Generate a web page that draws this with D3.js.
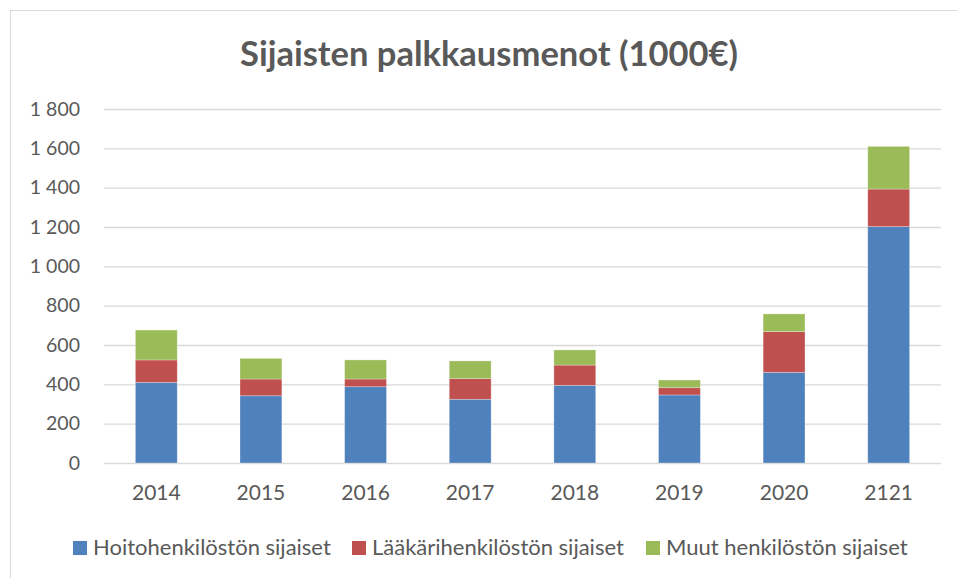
<!DOCTYPE html>
<html>
<head>
<meta charset="utf-8">
<script src="https://cdn.jsdelivr.net/npm/d3@7"></script>
<style>
  html, body { margin: 0; padding: 0; background: #fff; }
  svg { display: block; font-family: Lato, "Open Sans", sans-serif; }
  .grid line { stroke: #d9d9d9; stroke-width: 1.3; }
  .axis text { fill: #595959; }
</style>
</head>
<body>
<svg id="chart" width="957" height="578"></svg>
<script>
  var YEARS = ['2014', '2015', '2016', '2017', '2018', '2019', '2020', '2121'],

      SERIES = ['Hoitohenkilöstön sijaiset', 'Lääkärihenkilöstön sijaiset', 'Muut henkilöstön sijaiset'],

      // 1000 € per year
      HOITO  = [410, 342, 388, 324, 395, 346, 461, 1202],
      LAAKARI = [114, 85, 39, 105, 103, 37, 207, 191],
      MUUT   = [152, 105, 97, 90, 77, 39, 90, 217],

      Y_TICKS = [0, 200, 400, 600, 800, 1000, 1200, 1400, 1600, 1800],

      COLORS = ['#4f81bd', '#c0504d', '#9bbb59'];

  var svg = d3.select('#chart'),

      fi = d3.formatLocale({ decimal: ',', thousands: '\u00a0', grouping: [3], currency: ['', '€'] }),

      rows = YEARS.map(function(y, i) {
        return { year: y, s0: HOITO[i], s1: LAAKARI[i], s2: MUUT[i] };
      }),

      stack = d3.stack().keys(['s0', 's1', 's2'])(rows),

      x = d3.scaleBand()
        .domain(YEARS)
        .range([104, 941])
        .paddingInner(0.6)
        .paddingOuter(0.3),

      y = d3.scaleLinear()
        .domain([0, 1800])
        .range([463, 109]);

  // chart frame
  svg.append('rect')
    .attr('x', 10.5).attr('y', 10.5)
    .attr('width', 960).attr('height', 600)
    .attr('fill', 'none')
    .attr('stroke', '#d9d9d9');

  svg.append('text')
    .attr('x', 489).attr('y', 66)
    .attr('text-anchor', 'middle')
    .attr('font-size', 34.5)
    .attr('font-weight', 'bold')
    .attr('fill', '#595959')
    .text('Sijaisten palkkausmenot (1000€)');

  // gridlines + y labels
  var yAxis = svg.append('g')
    .attr('class', 'axis grid')
    .attr('transform', 'translate(104,0)')
    .call(d3.axisLeft(y)
      .tickValues(Y_TICKS)
      .tickSize(-837)
      .tickPadding(24)
      .tickFormat(fi.format(',')));

  yAxis.select('.domain').remove();
  yAxis.selectAll('text').attr('font-size', 19.5).attr('font-family', 'Lato');

  svg.append('g')
    .selectAll('g')
    .data(stack)
    .enter().append('g')
      .attr('fill', function(d, i) { return COLORS[i]; })
    .selectAll('rect')
    .data(function(d) { return d; })
    .enter().append('rect')
      .attr('x', function(d) { return x(d.data.year); })
      .attr('y', function(d) { return y(d[1]); })
      .attr('width', x.bandwidth())
      .attr('height', function(d) { return y(d[0]) - y(d[1]); })
      .attr('stroke', '#ffffff')
      .attr('stroke-opacity', 0.35)
      .attr('stroke-width', 0.8);

  var xAxis = svg.append('g')
    .attr('class', 'axis')
    .attr('transform', 'translate(0,463)')
    .call(d3.axisBottom(x).tickSize(0).tickPadding(22));

  xAxis.select('.domain').remove();
  xAxis.selectAll('text').attr('font-size', 21).attr('font-family', 'Lato');

  // legend
  var LEGEND_X = [73, 352, 646];

  var legend = svg.selectAll('.legend')
    .data(SERIES)
    .enter().append('g')
      .attr('class', 'legend')
      .attr('transform', function(d, i) { return 'translate(' + LEGEND_X[i] + ',541)'; });

  legend.append('rect')
    .attr('width', 14).attr('height', 14)
    .attr('fill', function(d, i) { return COLORS[i]; });

  legend.append('text')
    .attr('x', 20).attr('y', 14)
    .attr('font-size', 22)
    .attr('fill', '#595959')
    .text(function(d) { return d; });
</script>
</body>
</html>
